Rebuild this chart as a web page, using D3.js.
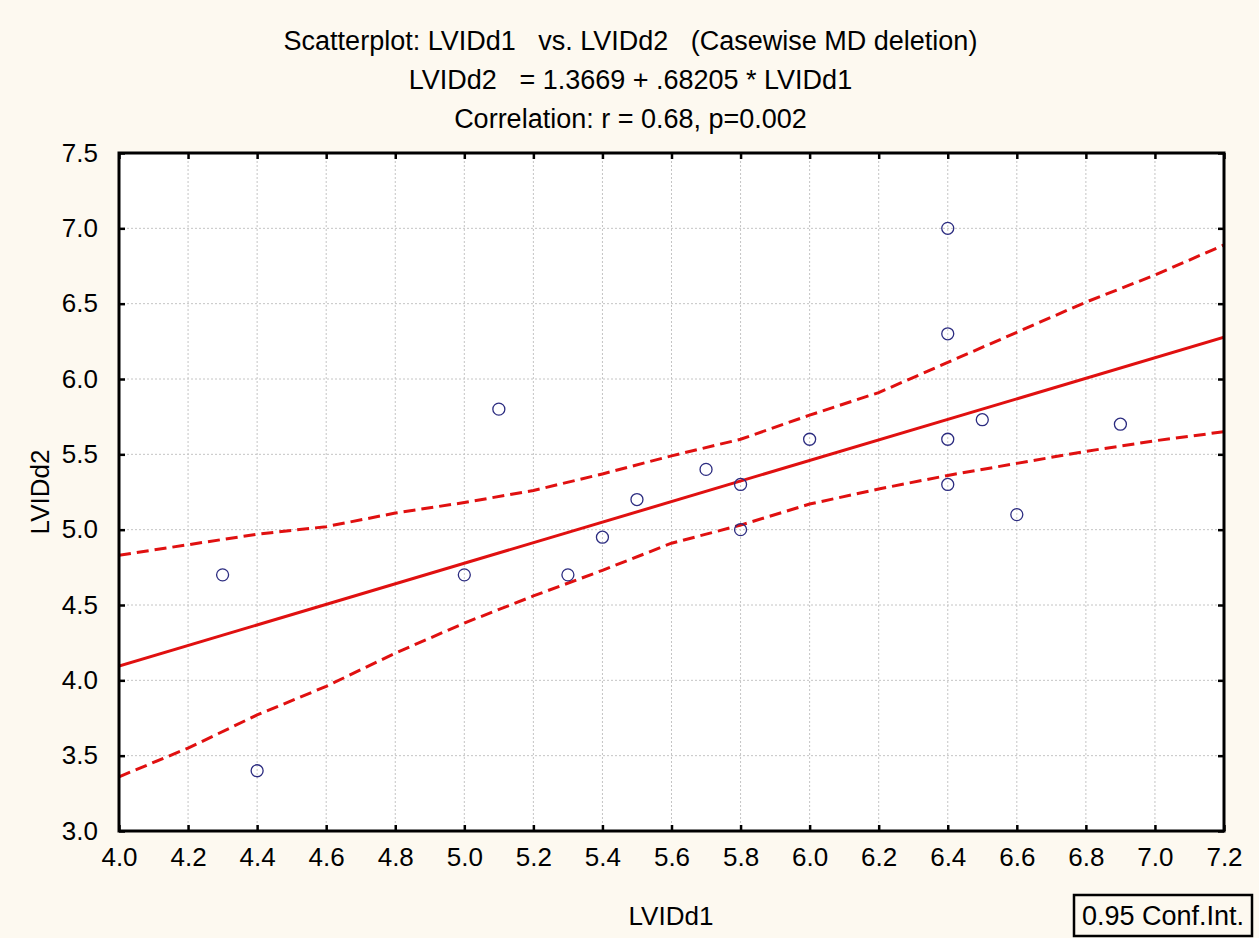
<!DOCTYPE html>
<html>
<head>
<meta charset="utf-8">
<script src="https://cdn.jsdelivr.net/npm/d3@7"></script>
<style>
  body { margin: 0; background: #fdf9f0; }
  svg { display: block; font-family: "Liberation Sans", Arial, sans-serif; }
</style>
</head>
<body>
<div id="chart"></div>
<script>
// scatter data
var lvidd1 = [4.3, 4.4, 5.0, 5.1, 5.3, 5.4, 5.5, 5.7, 5.8, 5.8, 6.0, 6.4, 6.4, 6.4, 6.4, 6.5, 6.6, 6.9];
var lvidd2 = [4.7, 3.4, 4.7, 5.8, 4.7, 4.95, 5.2, 5.4, 5.3, 5.0, 5.6, 7.0, 6.3, 5.6, 5.3, 5.73, 5.1, 5.7];

// regression from the title
var regIntercept = 1.3669;
var regSlope = 0.68205;

// 0.95 confidence band, read at each 0.2 step
var bandX = [4.0, 4.2, 4.4, 4.6, 4.8, 5.0, 5.2, 5.4, 5.6, 5.8, 6.0, 6.2, 6.4, 6.6, 6.8, 7.0, 7.2];
var bandUpper = [4.83, 4.90, 4.97, 5.02, 5.11, 5.18, 5.26, 5.37, 5.49, 5.60, 5.76, 5.91, 6.11, 6.31, 6.51, 6.69, 6.89];
var bandLower = [3.36, 3.55, 3.77, 3.96, 4.18, 4.38, 4.56, 4.73, 4.91, 5.03, 5.17, 5.27, 5.36, 5.44, 5.52, 5.59, 5.65];

var xTicks = [4.0, 4.2, 4.4, 4.6, 4.8, 5.0, 5.2, 5.4, 5.6, 5.8, 6.0, 6.2, 6.4, 6.6, 6.8, 7.0, 7.2];
var yTicks = [3.0, 3.5, 4.0, 4.5, 5.0, 5.5, 6.0, 6.5, 7.0, 7.5];

var titleLines = [
  "Scatterplot: LVIDd1   vs. LVIDd2   (Casewise MD deletion)",
  "LVIDd2   = 1.3669 + .68205 * LVIDd1",
  "Correlation: r = 0.68, p=0.002"
];

var W = 1259, H = 938;
var margin = { top: 153, right: 35, bottom: 107, left: 119 };
var width = W - margin.left - margin.right,
  height = H - margin.top - margin.bottom;

var svg = d3.select("#chart").append("svg").attr("width", W).attr("height", H);
svg.append("rect").attr("width", W).attr("height", H).attr("fill", "#fdf9f0");

var g = svg.append("g").attr("transform", `translate(${margin.left}, ${margin.top})`);

var x = d3.scaleLinear([4.0, 7.2], [0, width]);
var y = d3.scaleLinear([3.0, 7.5], [height, 0]);

g.append("rect").attr("width", width).attr("height", height).attr("fill", "#ffffff");

// grid
g.append("g")
  .selectAll("line")
  .data(xTicks.slice(1, -1))
  .join("line")
  .attr("x1", (d) => x(d)).attr("x2", (d) => x(d))
  .attr("y1", 0).attr("y2", height)
  .style("stroke", "#c4c4c4").style("stroke-width", 1).style("stroke-dasharray", "2,2");

g.append("g")
  .selectAll("line")
  .data(yTicks.slice(1, -1))
  .join("line")
  .attr("y1", (d) => y(d)).attr("y2", (d) => y(d))
  .attr("x1", 0).attr("x2", width)
  .style("stroke", "#c4c4c4").style("stroke-width", 1).style("stroke-dasharray", "2,2");

// axes (ticks inward, labels only on left / bottom)
var fmt = d3.format(".1f");
function styleAxis(sel) {
  sel.select(".domain").remove();
  sel.selectAll(".tick line").style("stroke", "#000").style("stroke-width", 2.5);
  sel.selectAll(".tick text")
    .style("font-size", "26px")
    .style("fill", "#000")
    .style("font-family", "'Liberation Sans', Arial, sans-serif");
}

g.append("g")
  .attr("transform", `translate(0, ${height})`)
  .call(d3.axisBottom(x).tickValues(xTicks).tickFormat(fmt).tickSizeInner(-6).tickSizeOuter(0).tickPadding(17))
  .call(styleAxis);

g.append("g")
  .call(d3.axisTop(x).tickValues(xTicks).tickFormat("").tickSizeInner(-6).tickSizeOuter(0))
  .call(styleAxis);

g.append("g")
  .call(d3.axisLeft(y).tickValues(yTicks).tickFormat(fmt).tickSizeInner(-6).tickSizeOuter(0).tickPadding(21))
  .call(styleAxis);

g.append("g")
  .attr("transform", `translate(${width}, 0)`)
  .call(d3.axisRight(y).tickValues(yTicks).tickFormat("").tickSizeInner(-6).tickSizeOuter(0))
  .call(styleAxis);

g.append("clipPath").attr("id", "plotclip").append("rect").attr("width", width).attr("height", height);
var plot = g.append("g").attr("clip-path", "url(#plotclip)");

// confidence band
var bandLine = d3.line().x((d) => x(d[0])).y((d) => y(d[1]));
[bandUpper, bandLower].forEach(function (vals) {
  plot.append("path")
    .datum(bandX.map((v, i) => [v, vals[i]]))
    .attr("d", bandLine)
    .style("fill", "none")
    .style("stroke", "#e01010")
    .style("stroke-width", 3)
    .style("stroke-dasharray", "12,6");
});

// regression line
var xd = x.domain();
plot.append("line")
  .attr("x1", x(xd[0])).attr("y1", y(regIntercept + regSlope * xd[0]))
  .attr("x2", x(xd[1])).attr("y2", y(regIntercept + regSlope * xd[1]))
  .style("stroke", "#e01010")
  .style("stroke-width", 3);

// points
plot.append("g")
  .selectAll("circle")
  .data(lvidd1.map((v, i) => [v, lvidd2[i]]))
  .join("circle")
  .attr("cx", (d) => x(d[0]))
  .attr("cy", (d) => y(d[1]))
  .attr("r", 6)
  .style("fill", "none")
  .style("stroke", "#2c2c80")
  .style("stroke-width", 1.3);

// frame
g.append("rect").attr("width", width).attr("height", height)
  .style("fill", "none").style("stroke", "#000").style("stroke-width", 3);

// titles
svg.append("g")
  .selectAll("text")
  .data(titleLines)
  .join("text")
  .attr("x", W / 2 + 1)
  .attr("y", (d, i) => 50 + i * 39)
  .attr("text-anchor", "middle")
  .style("font-size", "27px")
  .attr("xml:space", "preserve")
  .style("white-space", "pre")
  .text((d) => d);

svg.append("text")
  .attr("x", 671)
  .attr("y", 925)
  .attr("text-anchor", "middle")
  .style("font-size", "26px")
  .text("LVIDd1");

svg.append("text")
  .attr("transform", `translate(49, ${margin.top + height / 2}) rotate(-90)`)
  .attr("text-anchor", "middle")
  .style("font-size", "26px")
  .text("LVIDd2");

// legend box
svg.append("rect")
  .attr("x", 1074).attr("y", 895).attr("width", 178).attr("height", 41)
  .style("fill", "none").style("stroke", "#000").style("stroke-width", 2.5);
svg.append("text")
  .attr("x", 1163).attr("y", 925)
  .attr("text-anchor", "middle")
  .style("font-size", "27px")
  .text("0.95 Conf.Int.");
</script>
</body>
</html>
